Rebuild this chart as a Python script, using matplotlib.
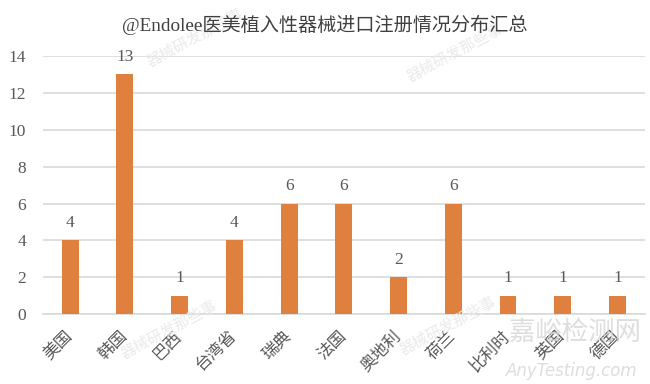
import matplotlib
matplotlib.use("Agg")
import matplotlib.pyplot as plt

plt.rcParams['font.family'] = ['Liberation Serif', 'Noto Sans CJK SC', 'DejaVu Sans']

countries = ["美国", "韩国", "巴西", "台湾省", "瑞典", "法国", "奥地利", "荷兰", "比利时", "英国", "德国"]
counts = [4, 13, 1, 4, 6, 6, 2, 6, 1, 1, 1]
yticks = [0, 2, 4, 6, 8, 10, 12, 14]
title = "@Endolee医美植入性器械进口注册情况分布汇总"

bar_color = "#E0803F"
text_color = "#595959"
grid_color = "#D9D9D9"

fig = plt.figure(figsize=(6.5, 3.84), dpi=100)
ax = fig.add_axes([0.066, 0.182, 0.926, 0.672])

x = list(range(len(countries)))
ax.bar(x, counts, width=0.31, color=bar_color, zorder=3)
for xi, v in zip(x, counts):
    ax.text(xi, v + 0.5, str(v), ha="center", va="bottom", fontsize=12.5, color=text_color)

ax.set_xlim(-0.5, len(countries) - 0.5)
ax.set_ylim(0, 14)
ax.set_yticks(yticks)
ax.set_yticklabels([str(t) for t in yticks], fontsize=12.5, color=text_color)
ax.set_xticks(x)
ax.set_xticklabels(countries, rotation=45, ha="right", va="center", rotation_mode="anchor",
                   fontsize=12, color=text_color)
ax.tick_params(axis="y", length=0, pad=12)
ax.tick_params(axis="x", length=0, pad=14)
ax.yaxis.grid(True, color=grid_color, linewidth=1.2, zorder=0)
for s in ["top", "right", "left"]:
    ax.spines[s].set_visible(False)
ax.spines["bottom"].set_color(grid_color)
ax.spines["bottom"].set_linewidth(1.2)

fig.text(0.5, 0.935, title, ha="center", va="center", fontsize=13.8, color="#404040")

# faint watermarks
wm = "器械研发那些事"
for (wx, wy) in [(0.30, 0.90), (0.70, 0.86), (0.26, 0.14), (0.69, 0.15)]:
    fig.text(wx, wy, wm, ha="center", va="center", rotation=28, fontsize=11,
             color="#EAEAEA", zorder=0)
fig.text(0.885, 0.135, "嘉峪检测网", ha="center", va="center", fontsize=19,
         color="#D5D5D5", alpha=0.8)
fig.text(0.88, 0.035, "AnyTesting.com", ha="center", va="center", fontsize=12,
         style="italic", color="#D5D5D5", alpha=0.8, family="DejaVu Sans")

fig.savefig("out.png", dpi=100)
